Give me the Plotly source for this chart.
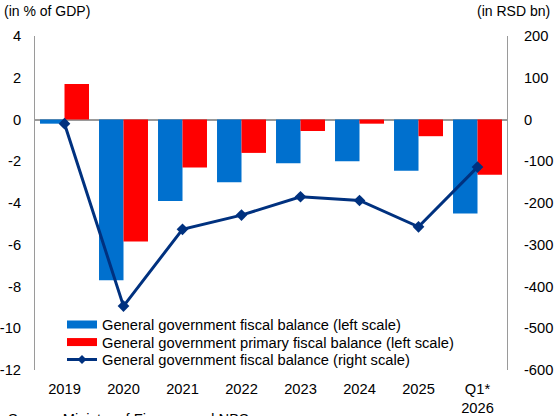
import plotly.graph_objects as go

# Categories and series
categories = ["2019", "2020", "2021", "2022", "2023", "2024", "2025", "Q1*<br>2026"]
balance_pct = [-0.2, -7.7, -3.9, -3.0, -2.1, -2.0, -2.45, -4.5]        # % of GDP, left scale
primary_pct = [1.7, -5.85, -2.3, -1.6, -0.55, -0.2, -0.8, -2.65]        # % of GDP, left scale
balance_rsd = [-10, -447, -263, -229, -185, -194, -257, -114]           # RSD bn, right scale

left_ticks = [4, 2, 0, -2, -4, -6, -8, -10, -12]
left_labels = ["4", "2", "0", "-2", "-4", "-6", "-8", "-10", "-12"]
right_ticks = [200, 100, 0, -100, -200, -300, -400, -500, -600]
right_labels = ["200", "100", "0", "-100", "-200", "-300", "-400", "-500", "-600"]

NAME_BAL_L = "General government fiscal balance (left scale)"
NAME_PRI_L = "General government primary fiscal balance (left scale)"
NAME_BAL_R = "General government fiscal balance (right scale)"

BLUE = "#0070CE"
RED = "#FF0000"
NAVY = "#00317F"
AXIS_GREY = "#9A9A9A"
FONT = "Liberation Sans, Arial, sans-serif"
FS = 14.7

# plot area in pixels (used to place the legend rows)
W, H = 557, 416
M_L, M_R, M_T, M_B = 35, 50, 36, 46
PLOT_W = W - M_L - M_R
PLOT_H = H - M_T - M_B


def paper_y(px):
    return (H - M_B - px) / PLOT_H


def paper_x(px):
    return (px - M_L) / PLOT_W


fig = go.Figure()

fig.add_trace(go.Bar(
    x=categories, y=balance_pct, name=NAME_BAL_L,
    marker=dict(color=BLUE, line=dict(width=0)), showlegend=False, yaxis="y",
))
fig.add_trace(go.Bar(
    x=categories, y=primary_pct, name=NAME_PRI_L,
    marker=dict(color=RED, line=dict(width=0)), showlegend=False, yaxis="y",
))
fig.add_trace(go.Scatter(
    x=categories, y=balance_rsd, name=NAME_BAL_R,
    mode="lines+markers", line=dict(color=NAVY, width=3),
    marker=dict(symbol="diamond", size=9, color=NAVY),
    showlegend=False, yaxis="y2",
))

# Legend rows: one legend each so the row spacing stays tight
fig.add_trace(go.Scatter(
    x=[None], y=[None], mode="lines", line=dict(color=BLUE, width=8),
    name=NAME_BAL_L, legend="legend",
))
fig.add_trace(go.Scatter(
    x=[None], y=[None], mode="lines", line=dict(color=RED, width=8),
    name=NAME_PRI_L, legend="legend2",
))
fig.add_trace(go.Scatter(
    x=[None], y=[None], mode="lines+markers", line=dict(color=NAVY, width=3),
    marker=dict(symbol="diamond", size=7, color=NAVY),
    name=NAME_BAL_R, legend="legend3",
))


def legend_row(center_px):
    return dict(
        x=paper_x(62), y=paper_y(center_px), xanchor="left", yanchor="middle",
        bgcolor="rgba(0,0,0,0)", font=dict(size=FS), itemwidth=30,
    )


fig.update_layout(
    width=W, height=H,
    margin=dict(l=M_L, r=M_R, t=M_T, b=M_B),
    paper_bgcolor="white", plot_bgcolor="white",
    font=dict(family=FONT, size=FS, color="black"),
    barmode="group", bargap=0.17, bargroupgap=0,
    xaxis=dict(
        type="category", showgrid=False, showline=False, ticks="",
        ticklabelstandoff=8, automargin=False,
    ),
    yaxis=dict(
        range=[-12, 4], tickvals=left_ticks, ticktext=left_labels,
        showgrid=False, showline=True, linecolor=AXIS_GREY, linewidth=1,
        zeroline=True, zerolinecolor=AXIS_GREY, zerolinewidth=1.5,
        ticks="", ticklabelstandoff=10, automargin=False,
    ),
    yaxis2=dict(
        range=[-600, 200], tickvals=right_ticks, ticktext=right_labels,
        overlaying="y", side="right",
        showgrid=False, showline=True, linecolor=AXIS_GREY, linewidth=1,
        zeroline=False, ticks="", ticklabelstandoff=13, automargin=False,
    ),
    legend=legend_row(325),
    legend2=legend_row(342.5),
    legend3=legend_row(360),
    annotations=[
        dict(text="(in % of GDP)", xref="paper", yref="paper", x=paper_x(2), y=1.0,
             xanchor="left", yanchor="bottom", yshift=15, showarrow=False,
             font=dict(size=14)),
        dict(text="(in RSD bn)", xref="paper", yref="paper", x=paper_x(552), y=1.0,
             xanchor="right", yanchor="bottom", yshift=15, showarrow=False,
             font=dict(size=14)),
        dict(text="Source: Ministry of Finance and NBS.", xref="paper", yref="paper",
             x=paper_x(6), y=0, xanchor="left", yanchor="top", yshift=-39,
             showarrow=False, font=dict(size=FS)),
    ],
)

fig.write_html("out.html")
